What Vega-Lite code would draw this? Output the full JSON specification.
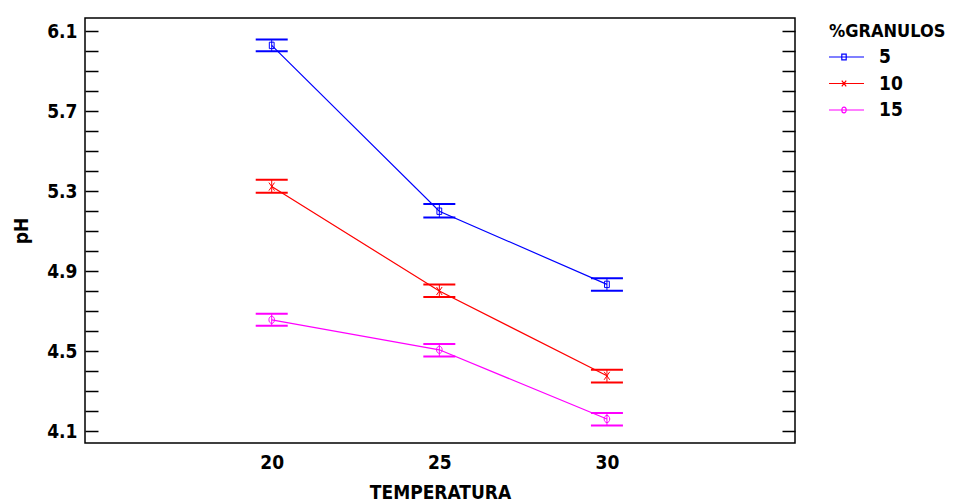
{
  "$schema": "https://vega.github.io/schema/vega-lite/v6.json",
  "width": 710,
  "height": 425,
  "autosize": {"type": "none"},
  "padding": {"left": 85, "top": 18, "right": 159, "bottom": 59},
  "background": "white",
  "config": {
    "font": "Liberation Sans Narrow, Arial Narrow, DejaVu Sans Condensed, sans-serif",
    "view": {"stroke": "black", "strokeWidth": 1.5},
    "axis": {"grid": false}
  },
  "data": {
    "values": [
      {"t": 20, "g": "5", "ph": 6.028, "lo": 5.999, "hi": 6.057},
      {"t": 25, "g": "5", "ph": 5.199, "lo": 5.168, "hi": 5.235},
      {"t": 30, "g": "5", "ph": 4.833, "lo": 4.801, "hi": 4.864},
      {"t": 20, "g": "10", "ph": 5.322, "lo": 5.291, "hi": 5.356},
      {"t": 25, "g": "10", "ph": 4.8, "lo": 4.77, "hi": 4.833},
      {"t": 30, "g": "10", "ph": 4.376, "lo": 4.342, "hi": 4.406},
      {"t": 20, "g": "15", "ph": 4.656, "lo": 4.626, "hi": 4.686},
      {"t": 25, "g": "15", "ph": 4.506, "lo": 4.472, "hi": 4.535},
      {"t": 30, "g": "15", "ph": 4.16, "lo": 4.128, "hi": 4.19}
    ]
  },
  "layer": [
    {
      "mark": {"type": "rule", "strokeWidth": 1},
      "encoding": {
        "x": {"field": "t", "type": "quantitative", "scale": {"domain": [14.43, 35.61]},
          "axis": {"title": "TEMPERATURA", "values": [20, 25, 30], "ticks": false, "domain": false, "labelFontSize": 19, "labelFontWeight": "bold", "labelColor": "black", "labelPadding": 10, "titleFontSize": 19, "titleFontWeight": "bold", "titleColor": "black", "titlePadding": 11, "labelFlush": false}},
        "y": {"field": "lo", "type": "quantitative", "scale": {"domain": [4.04, 6.165], "nice": false, "zero": false},
          "axis": {"title": "pH", "orient": "left", "values": [4.1, 4.2, 4.3, 4.4, 4.5, 4.6, 4.7, 4.8, 4.9, 5.0, 5.1, 5.2, 5.3, 5.4, 5.5, 5.6, 5.7, 5.8, 5.9, 6.0, 6.1],
            "domain": false, "tickSize": -13, "tickWidth": 1.5, "tickColor": "black",
            "labelExpr": "indexof([4.1, 4.5, 4.9, 5.3, 5.7, 6.1], datum.value) >= 0 ? format(datum.value, '.1f') : ''",
            "labelOverlap": false, "labelFlush": false, "labelPadding": 21, "labelFontSize": 19, "labelFontWeight": "bold", "labelColor": "black",
            "titleFontSize": 19, "titleFontWeight": "bold", "titleColor": "black", "titlePadding": 15,
            "encode": {"ticks": {"update": {"x2": {"signal": "indexof([4.1, 4.5, 4.9, 5.3, 5.7, 6.1], datum.value) >= 0 ? 13 : 7"}}}}}},
        "y2": {"field": "hi"},
        "color": {"field": "g", "type": "nominal", "scale": {"domain": ["5", "10", "15"], "range": ["#0000FF", "#FF0000", "#FF00FF"]},
          "legend": {"title": "%GRANULOS", "orient": "right", "offset": 28, "padding": 5,
            "titleFontSize": 18, "titleFontWeight": "bold", "titleColor": "black", "titlePadding": 5,
            "labelFontSize": 19, "labelFontWeight": "bold", "labelColor": "black", "labelOffset": 23, "symbolOffset": 3,
            "symbolSize": 484, "symbolStrokeWidth": 1.2, "clipHeight": 22, "rowPadding": 4.5,
            "encode": {"symbols": {"update": {
              "shape": {"signal": "datum.value == '5' ? 'M-1.82,0H1.82M-0.2,-0.27H0.2V0.27H-0.2Z' : datum.value == '10' ? 'M-1.82,0H1.82M-0.2,-0.27L0.2,0.27M-0.2,0.27L0.2,-0.27' : 'M-1.82,0H1.82M0.2,0A0.2,0.27 0 1,1 -0.2,0A0.2,0.27 0 1,1 0.2,0'"},
              "size": {"value": 484}, "strokeWidth": {"value": 1.2},
              "fill": {"value": "transparent"}}}}}}
      }
    },
    {
      "mark": {"type": "rule", "strokeWidth": 2, "xOffset": -16, "x2Offset": 16},
      "encoding": {
        "x": {"field": "t", "type": "quantitative", "scale": {"domain": [14.43, 35.61]},
          "axis": {"title": "TEMPERATURA", "values": [20, 25, 30], "ticks": false, "domain": false, "labelFontSize": 19, "labelFontWeight": "bold", "labelColor": "black", "labelPadding": 10, "titleFontSize": 19, "titleFontWeight": "bold", "titleColor": "black", "titlePadding": 11, "labelFlush": false}},
        "x2": {"field": "t"},
        "y": {"field": "lo", "type": "quantitative", "scale": {"domain": [4.04, 6.165], "nice": false, "zero": false},
          "axis": {"title": null, "orient": "right", "labels": false, "values": [4.1, 4.2, 4.3, 4.4, 4.5, 4.6, 4.7, 4.8, 4.9, 5.0, 5.1, 5.2, 5.3, 5.4, 5.5, 5.6, 5.7, 5.8, 5.9, 6.0, 6.1],
            "domain": false, "tickSize": -13, "tickWidth": 1.5, "tickColor": "black",
            "encode": {"ticks": {"update": {"x2": {"signal": "indexof([4.1, 4.5, 4.9, 5.3, 5.7, 6.1], datum.value) >= 0 ? -13 : -7"}}}}}},
        "color": {"field": "g", "type": "nominal", "scale": {"domain": ["5", "10", "15"], "range": ["#0000FF", "#FF0000", "#FF00FF"]},
          "legend": {"title": "%GRANULOS", "orient": "right", "offset": 28, "padding": 5,
            "titleFontSize": 18, "titleFontWeight": "bold", "titleColor": "black", "titlePadding": 5,
            "labelFontSize": 19, "labelFontWeight": "bold", "labelColor": "black", "labelOffset": 23, "symbolOffset": 3,
            "symbolSize": 484, "symbolStrokeWidth": 1.2, "clipHeight": 22, "rowPadding": 4.5,
            "encode": {"symbols": {"update": {
              "shape": {"signal": "datum.value == '5' ? 'M-1.82,0H1.82M-0.2,-0.27H0.2V0.27H-0.2Z' : datum.value == '10' ? 'M-1.82,0H1.82M-0.2,-0.27L0.2,0.27M-0.2,0.27L0.2,-0.27' : 'M-1.82,0H1.82M0.2,0A0.2,0.27 0 1,1 -0.2,0A0.2,0.27 0 1,1 0.2,0'"},
              "size": {"value": 484}, "strokeWidth": {"value": 1.2},
              "fill": {"value": "transparent"}}}}}}
      }
    },
    {
      "mark": {"type": "rule", "strokeWidth": 2, "xOffset": -16, "x2Offset": 16},
      "encoding": {
        "x": {"field": "t", "type": "quantitative", "scale": {"domain": [14.43, 35.61]},
          "axis": {"title": "TEMPERATURA", "values": [20, 25, 30], "ticks": false, "domain": false, "labelFontSize": 19, "labelFontWeight": "bold", "labelColor": "black", "labelPadding": 10, "titleFontSize": 19, "titleFontWeight": "bold", "titleColor": "black", "titlePadding": 11, "labelFlush": false}},
        "x2": {"field": "t"},
        "y": {"field": "hi", "type": "quantitative", "scale": {"domain": [4.04, 6.165], "nice": false, "zero": false}, "axis": null},
        "color": {"field": "g", "type": "nominal", "scale": {"domain": ["5", "10", "15"], "range": ["#0000FF", "#FF0000", "#FF00FF"]},
          "legend": {"title": "%GRANULOS", "orient": "right", "offset": 28, "padding": 5,
            "titleFontSize": 18, "titleFontWeight": "bold", "titleColor": "black", "titlePadding": 5,
            "labelFontSize": 19, "labelFontWeight": "bold", "labelColor": "black", "labelOffset": 23, "symbolOffset": 3,
            "symbolSize": 484, "symbolStrokeWidth": 1.2, "clipHeight": 22, "rowPadding": 4.5,
            "encode": {"symbols": {"update": {
              "shape": {"signal": "datum.value == '5' ? 'M-1.82,0H1.82M-0.2,-0.27H0.2V0.27H-0.2Z' : datum.value == '10' ? 'M-1.82,0H1.82M-0.2,-0.27L0.2,0.27M-0.2,0.27L0.2,-0.27' : 'M-1.82,0H1.82M0.2,0A0.2,0.27 0 1,1 -0.2,0A0.2,0.27 0 1,1 0.2,0'"},
              "size": {"value": 484}, "strokeWidth": {"value": 1.2},
              "fill": {"value": "transparent"}}}}}}
      }
    },
    {
      "mark": {"type": "line", "strokeWidth": 1.2},
      "encoding": {
        "x": {"field": "t", "type": "quantitative", "scale": {"domain": [14.43, 35.61]},
          "axis": {"title": "TEMPERATURA", "values": [20, 25, 30], "ticks": false, "domain": false, "labelFontSize": 19, "labelFontWeight": "bold", "labelColor": "black", "labelPadding": 10, "titleFontSize": 19, "titleFontWeight": "bold", "titleColor": "black", "titlePadding": 11, "labelFlush": false}},
        "y": {"field": "ph", "type": "quantitative", "scale": {"domain": [4.04, 6.165], "nice": false, "zero": false}, "axis": null},
        "color": {"field": "g", "type": "nominal", "scale": {"domain": ["5", "10", "15"], "range": ["#0000FF", "#FF0000", "#FF00FF"]},
          "legend": {"title": "%GRANULOS", "orient": "right", "offset": 28, "padding": 5,
            "titleFontSize": 18, "titleFontWeight": "bold", "titleColor": "black", "titlePadding": 5,
            "labelFontSize": 19, "labelFontWeight": "bold", "labelColor": "black", "labelOffset": 23, "symbolOffset": 3,
            "symbolSize": 484, "symbolStrokeWidth": 1.2, "clipHeight": 22, "rowPadding": 4.5,
            "encode": {"symbols": {"update": {
              "shape": {"signal": "datum.value == '5' ? 'M-1.82,0H1.82M-0.2,-0.27H0.2V0.27H-0.2Z' : datum.value == '10' ? 'M-1.82,0H1.82M-0.2,-0.27L0.2,0.27M-0.2,0.27L0.2,-0.27' : 'M-1.82,0H1.82M0.2,0A0.2,0.27 0 1,1 -0.2,0A0.2,0.27 0 1,1 0.2,0'"},
              "size": {"value": 484}, "strokeWidth": {"value": 1.2},
              "fill": {"value": "transparent"}}}}}}
      }
    },
    {
      "transform": [{"filter": "datum.g == '5'"}],
      "mark": {"type": "point", "filled": false, "strokeWidth": 1, "size": 64, "opacity": 1, "shape": "M-0.6,-0.8H0.6V0.8H-0.6Z"},
      "encoding": {
        "x": {"field": "t", "type": "quantitative", "scale": {"domain": [14.43, 35.61]},
          "axis": {"title": "TEMPERATURA", "values": [20, 25, 30], "ticks": false, "domain": false, "labelFontSize": 19, "labelFontWeight": "bold", "labelColor": "black", "labelPadding": 10, "titleFontSize": 19, "titleFontWeight": "bold", "titleColor": "black", "titlePadding": 11, "labelFlush": false}},
        "y": {"field": "ph", "type": "quantitative", "scale": {"domain": [4.04, 6.165], "nice": false, "zero": false}, "axis": null},
        "color": {"field": "g", "type": "nominal", "scale": {"domain": ["5", "10", "15"], "range": ["#0000FF", "#FF0000", "#FF00FF"]},
          "legend": {"title": "%GRANULOS", "orient": "right", "offset": 28, "padding": 5,
            "titleFontSize": 18, "titleFontWeight": "bold", "titleColor": "black", "titlePadding": 5,
            "labelFontSize": 19, "labelFontWeight": "bold", "labelColor": "black", "labelOffset": 23, "symbolOffset": 3,
            "symbolSize": 484, "symbolStrokeWidth": 1.2, "clipHeight": 22, "rowPadding": 4.5,
            "encode": {"symbols": {"update": {
              "shape": {"signal": "datum.value == '5' ? 'M-1.82,0H1.82M-0.2,-0.27H0.2V0.27H-0.2Z' : datum.value == '10' ? 'M-1.82,0H1.82M-0.2,-0.27L0.2,0.27M-0.2,0.27L0.2,-0.27' : 'M-1.82,0H1.82M0.2,0A0.2,0.27 0 1,1 -0.2,0A0.2,0.27 0 1,1 0.2,0'"},
              "size": {"value": 484}, "strokeWidth": {"value": 1.2},
              "fill": {"value": "transparent"}}}}}}
      }
    },
    {
      "transform": [{"filter": "datum.g == '10'"}],
      "mark": {"type": "point", "filled": false, "strokeWidth": 1, "size": 64, "opacity": 1, "shape": "M-0.7,-1L0.7,1M-0.7,1L0.7,-1"},
      "encoding": {
        "x": {"field": "t", "type": "quantitative", "scale": {"domain": [14.43, 35.61]},
          "axis": {"title": "TEMPERATURA", "values": [20, 25, 30], "ticks": false, "domain": false, "labelFontSize": 19, "labelFontWeight": "bold", "labelColor": "black", "labelPadding": 10, "titleFontSize": 19, "titleFontWeight": "bold", "titleColor": "black", "titlePadding": 11, "labelFlush": false}},
        "y": {"field": "ph", "type": "quantitative", "scale": {"domain": [4.04, 6.165], "nice": false, "zero": false}, "axis": null},
        "color": {"field": "g", "type": "nominal", "scale": {"domain": ["5", "10", "15"], "range": ["#0000FF", "#FF0000", "#FF00FF"]},
          "legend": {"title": "%GRANULOS", "orient": "right", "offset": 28, "padding": 5,
            "titleFontSize": 18, "titleFontWeight": "bold", "titleColor": "black", "titlePadding": 5,
            "labelFontSize": 19, "labelFontWeight": "bold", "labelColor": "black", "labelOffset": 23, "symbolOffset": 3,
            "symbolSize": 484, "symbolStrokeWidth": 1.2, "clipHeight": 22, "rowPadding": 4.5,
            "encode": {"symbols": {"update": {
              "shape": {"signal": "datum.value == '5' ? 'M-1.82,0H1.82M-0.2,-0.27H0.2V0.27H-0.2Z' : datum.value == '10' ? 'M-1.82,0H1.82M-0.2,-0.27L0.2,0.27M-0.2,0.27L0.2,-0.27' : 'M-1.82,0H1.82M0.2,0A0.2,0.27 0 1,1 -0.2,0A0.2,0.27 0 1,1 0.2,0'"},
              "size": {"value": 484}, "strokeWidth": {"value": 1.2},
              "fill": {"value": "transparent"}}}}}}
      }
    },
    {
      "transform": [{"filter": "datum.g == '15'"}],
      "mark": {"type": "point", "filled": false, "strokeWidth": 1, "size": 64, "opacity": 1, "shape": "M0.7,0A0.7,0.9 0 1,1 -0.7,0A0.7,0.9 0 1,1 0.7,0"},
      "encoding": {
        "x": {"field": "t", "type": "quantitative", "scale": {"domain": [14.43, 35.61]},
          "axis": {"title": "TEMPERATURA", "values": [20, 25, 30], "ticks": false, "domain": false, "labelFontSize": 19, "labelFontWeight": "bold", "labelColor": "black", "labelPadding": 10, "titleFontSize": 19, "titleFontWeight": "bold", "titleColor": "black", "titlePadding": 11, "labelFlush": false}},
        "y": {"field": "ph", "type": "quantitative", "scale": {"domain": [4.04, 6.165], "nice": false, "zero": false}, "axis": null},
        "color": {"field": "g", "type": "nominal", "scale": {"domain": ["5", "10", "15"], "range": ["#0000FF", "#FF0000", "#FF00FF"]},
          "legend": {"title": "%GRANULOS", "orient": "right", "offset": 28, "padding": 5,
            "titleFontSize": 18, "titleFontWeight": "bold", "titleColor": "black", "titlePadding": 5,
            "labelFontSize": 19, "labelFontWeight": "bold", "labelColor": "black", "labelOffset": 23, "symbolOffset": 3,
            "symbolSize": 484, "symbolStrokeWidth": 1.2, "clipHeight": 22, "rowPadding": 4.5,
            "encode": {"symbols": {"update": {
              "shape": {"signal": "datum.value == '5' ? 'M-1.82,0H1.82M-0.2,-0.27H0.2V0.27H-0.2Z' : datum.value == '10' ? 'M-1.82,0H1.82M-0.2,-0.27L0.2,0.27M-0.2,0.27L0.2,-0.27' : 'M-1.82,0H1.82M0.2,0A0.2,0.27 0 1,1 -0.2,0A0.2,0.27 0 1,1 0.2,0'"},
              "size": {"value": 484}, "strokeWidth": {"value": 1.2},
              "fill": {"value": "transparent"}}}}}}
      }
    }
  ],
  "resolve": {"axis": {"y": "independent"}}
}
